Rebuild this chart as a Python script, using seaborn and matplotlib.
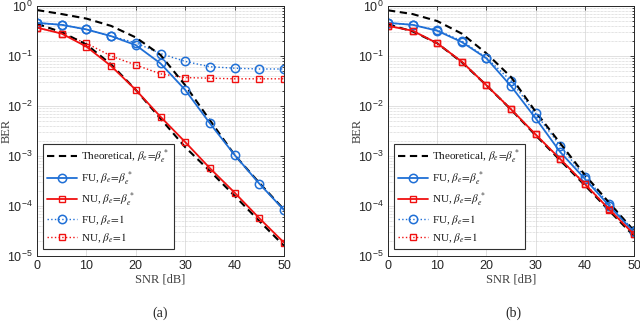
import numpy as np
import pandas as pd
import matplotlib
matplotlib.use("Agg")
import matplotlib.pyplot as plt
import seaborn as sns
from matplotlib.ticker import LogLocator, NullFormatter
from matplotlib.lines import Line2D

sns.set_style("white")
plt.rcParams["font.family"] = ["Liberation Serif", "DejaVu Serif"]
plt.rcParams["mathtext.fontset"] = "stix"

snr = [0, 5, 10, 15, 20, 25, 30, 35, 40, 45, 50]

# Panel (a)
theo_fu_a = [0.83, 0.69, 0.56, 0.40, 0.235, 0.105, 0.026, 0.0052, 1.05e-3, 2.9e-4, 8.5e-5]
theo_nu_a = [0.44, 0.30, 0.17, 0.068, 0.021, 0.0056, 0.0015, 5.0e-4, 1.6e-4, 5.0e-5, 1.6e-5]
fu_opt_a = [0.46, 0.42, 0.34, 0.25, 0.165, 0.071, 0.021, 0.0045, 1.05e-3, 2.8e-4, 8.3e-5]
nu_opt_a = [0.37, 0.28, 0.154, 0.063, 0.021, 0.0061, 0.0019, 5.7e-4, 1.85e-4, 5.7e-5, 1.85e-5]
fu_one_a = [0.46, 0.42, 0.34, 0.25, 0.183, 0.112, 0.078, 0.061, 0.057, 0.055, 0.055]
nu_one_a = [0.37, 0.28, 0.18, 0.10, 0.066, 0.044, 0.037, 0.036, 0.035, 0.035, 0.035]

# Panel (b)
theo_fu_b = [0.82, 0.69, 0.50, 0.28, 0.113, 0.038, 0.0077, 0.0018, 4.2e-4, 1.15e-4, 3.2e-5]
theo_nu_b = [0.43, 0.31, 0.18, 0.075, 0.026, 0.0085, 0.0026, 8.2e-4, 2.6e-4, 8.0e-5, 2.5e-5]
fu_opt_b = [0.46, 0.42, 0.32, 0.19, 0.09, 0.025, 0.0057, 1.2e-3, 3.5e-4, 1.0e-4, 3.0e-5]
nu_opt_b = [0.40, 0.32, 0.18, 0.077, 0.026, 0.0086, 0.0027, 8.7e-4, 2.75e-4, 8.5e-5, 2.7e-5]
fu_one_b = [0.46, 0.42, 0.33, 0.20, 0.092, 0.032, 0.0071, 1.6e-3, 3.8e-4, 1.1e-4, 3.2e-5]
nu_one_b = [0.40, 0.32, 0.18, 0.077, 0.026, 0.0087, 0.0027, 8.8e-4, 2.8e-4, 8.6e-5, 2.8e-5]

labels = [r"Theoretical, $\beta_e\!=\!\beta_e^{\,*}$",
          r"FU, $\beta_e\!=\!\beta_e^{\,*}$",
          r"NU, $\beta_e\!=\!\beta_e^{\,*}$",
          r"FU, $\beta_e\!=\!1$",
          r"NU, $\beta_e\!=\!1$"]

BLUE = "#1f6fd6"
RED = "#f01010"
GRAY = "#262626"
DASH = (0, (3.5, 2.2))

fig = plt.figure(figsize=(6.4, 3.25), dpi=100)
axA = fig.add_axes([37/640, 1-256/325, (284-37)/640, 250/325])
axB = fig.add_axes([388/640, 1-256/325, (634-388)/640, 250/325])


def draw(ax, theo_fu, theo_nu, fu_opt, nu_opt, fu_one, nu_one):
    styles = [
        (fu_one, dict(color=BLUE, linestyle=":", linewidth=1.0, marker="o",
                      markersize=6, markerfacecolor="none", markeredgecolor=BLUE,
                      markeredgewidth=1.1)),
        (nu_one, dict(color=RED, linestyle=":", linewidth=1.0, marker="s",
                      markersize=5, markerfacecolor="none", markeredgecolor=RED,
                      markeredgewidth=1.0)),
        (theo_fu, dict(color="black", linestyle=DASH, linewidth=1.5, marker=None)),
        (theo_nu, dict(color="black", linestyle=DASH, linewidth=1.5, marker=None)),
        (fu_opt, dict(color=BLUE, linestyle="-", linewidth=1.3, marker="o",
                      markersize=6, markerfacecolor="none", markeredgecolor=BLUE,
                      markeredgewidth=1.1)),
        (nu_opt, dict(color=RED, linestyle="-", linewidth=1.3, marker="s",
                      markersize=5, markerfacecolor="none", markeredgecolor=RED,
                      markeredgewidth=1.0)),
    ]
    for vals, kw in styles:
        df = pd.DataFrame({"snr": snr, "ber": vals})
        sns.lineplot(data=df, x="snr", y="ber", ax=ax, legend=False, **kw)

    ax.set_yscale("log")
    ax.set_xlim(0, 50)
    ax.set_ylim(1e-5, 1)
    ax.set_xticks([0, 10, 20, 30, 40, 50])
    ax.yaxis.set_major_locator(LogLocator(base=10, numticks=10))
    ax.yaxis.set_minor_locator(LogLocator(base=10, subs=np.arange(2, 10), numticks=50))
    ax.yaxis.set_minor_formatter(NullFormatter())
    ax.grid(True, which="major", color="#dcdcdc", linewidth=0.6, linestyle="-")
    ax.grid(True, which="minor", axis="y", color="#c8c8c8", linewidth=0.5,
            linestyle=(0, (1, 1)))
    ax.set_axisbelow(True)
    ax.tick_params(which="both", direction="in", top=True, right=True,
                   colors=GRAY, labelsize=9, length=3, width=0.6, pad=3)
    ax.tick_params(which="minor", length=1.5)
    for lab in ax.get_xticklabels() + ax.get_yticklabels():
        lab.set_fontfamily(["Liberation Sans", "DejaVu Sans"])
    for sp in ax.spines.values():
        sp.set_color(GRAY)
        sp.set_linewidth(0.7)
    ax.set_xlabel("SNR [dB]", fontsize=9, color="#404040", labelpad=1)
    ax.set_ylabel("BER", fontsize=9, color="#404040")
    ax.yaxis.set_label_coords(-0.1, 0.5)

    handles = [
        Line2D([], [], color="black", linestyle=DASH, linewidth=1.5),
        Line2D([], [], color=BLUE, linestyle="-", linewidth=1.3, marker="o",
               markersize=6, markerfacecolor="none", markeredgewidth=1.1),
        Line2D([], [], color=RED, linestyle="-", linewidth=1.3, marker="s",
               markersize=5, markerfacecolor="none", markeredgewidth=1.0),
        Line2D([], [], color=BLUE, linestyle=":", linewidth=1.0, marker="o",
               markersize=6, markerfacecolor="none", markeredgewidth=1.1),
        Line2D([], [], color=RED, linestyle=":", linewidth=1.0, marker="s",
               markersize=5, markerfacecolor="none", markeredgewidth=1.0),
    ]
    leg = ax.legend(handles, labels, loc="lower left", bbox_to_anchor=(0.024, 0.028),
                    borderaxespad=0, fontsize=8, frameon=True, fancybox=False,
                    framealpha=1, edgecolor="#303030", handlelength=2.7,
                    handletextpad=0.35, labelspacing=0.32, borderpad=0.4)
    leg.get_frame().set_linewidth(0.8)
    for t in leg.get_texts():
        t.set_color("#1a1a1a")


draw(axA, theo_fu_a, theo_nu_a, fu_opt_a, nu_opt_a, fu_one_a, nu_one_a)
draw(axB, theo_fu_b, theo_nu_b, fu_opt_b, nu_opt_b, fu_one_b, nu_one_b)

fig.text(160/640, 1-313/325, "(a)", ha="center", va="center", fontsize=10)
fig.text(513/640, 1-313/325, "(b)", ha="center", va="center", fontsize=10)

fig.savefig("out.png", dpi=100)
